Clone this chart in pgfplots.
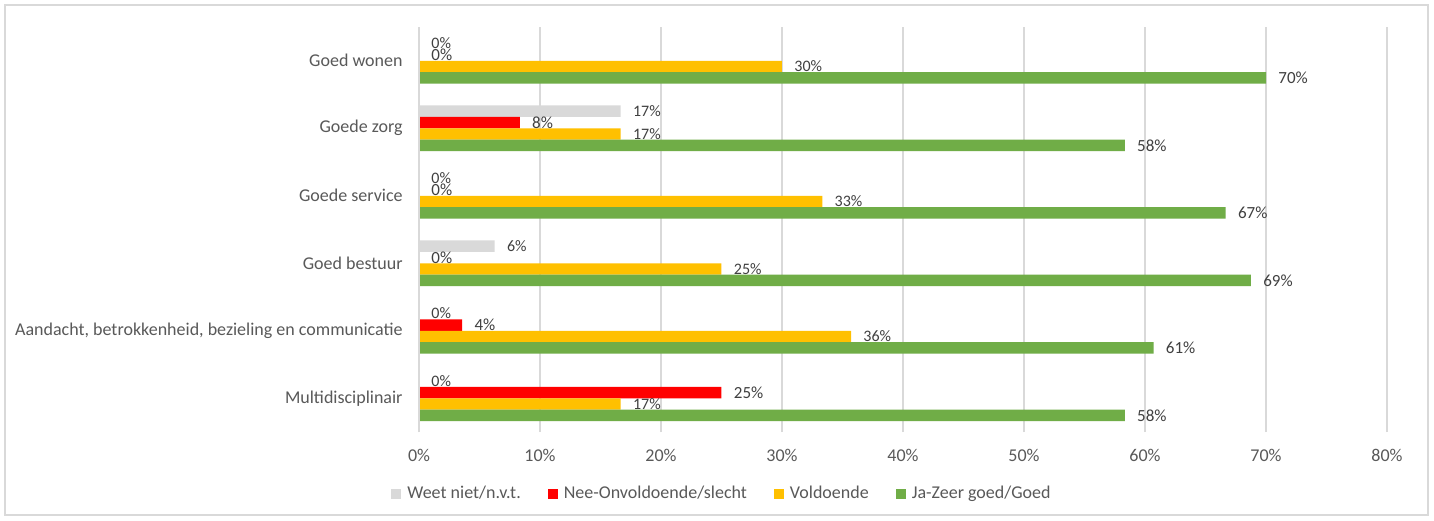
\documentclass[border=0pt]{standalone}
\usepackage{pgfplots}
\pgfplotsset{compat=1.18}
\usepackage{fontspec}
\setmainfont{Carlito}
\definecolor{gridgray}{HTML}{D9D9D9}
\definecolor{txtgray}{HTML}{595959}
\definecolor{lblgray}{HTML}{404040}
\definecolor{cWeet}{HTML}{D9D9D9}
\definecolor{cNee}{HTML}{FF0000}
\definecolor{cVold}{HTML}{FFC000}
\definecolor{cJa}{HTML}{70AD47}
\begin{document}
\begin{tikzpicture}
\useasboundingbox (-209.5pt,-44pt) rectangle (507.5pt,216pt);
\fill[white] (-209.5pt,-44pt) rectangle (507.5pt,216pt);
\begin{axis}[
  at={(0pt,0pt)}, anchor=south west,
  scale only axis, width=484pt, height=202.5pt,
  xbar, bar width=0.17,
  xmin=0, xmax=80, ymin=-0.5, ymax=5.5,
  xtick={0,10,...,80},
  xticklabel={\pgfmathprintnumber{\tick}\%},
  /pgf/number format/assume math mode=true,
  ytick={0,1,2,3,4,5},
  yticklabels={Multidisciplinair,{Aandacht, betrokkenheid, bezieling en communicatie},Goed bestuur,Goede service,Goede zorg,Goed wonen},
  xmajorgrids, major grid style={color=gridgray, line width=0.75pt},
  axis line style={draw=none},
  major tick length=0pt,
  tick style={draw=none},
  xticklabel style={font=\fontsize{9}{10}\selectfont, text=txtgray, anchor=center, yshift=-11.5pt},
  yticklabel style={font=\fontsize{9}{10}\selectfont, text=txtgray, anchor=east, inner sep=0pt, xshift=-8pt},
  point meta=x,
  nodes near coords={\pgfmathprintnumber[fixed,precision=0]{\pgfplotspointmeta}\%},
  nodes near coords style={anchor=west, inner sep=0pt, xshift=6pt, text=lblgray, font=\fontsize{8}{9}\selectfont},
  legend image code/.code={\fill[#1] (0pt,-2.5pt) rectangle (5pt,2.5pt);},
  legend columns=4,
  legend style={at={(0.313,-0.1531)}, anchor=center, draw=none, fill=none,
    font=\fontsize{9}{10}\selectfont, text=txtgray,
    nodes={inner sep=1pt},
    /tikz/every even column/.append style={column sep=12.5pt},
    /tikz/every odd column/.append style={column sep=2pt}},
  legend cell align=left,
]
\addplot[fill=cWeet, draw=none, bar shift=0.255] coordinates {(0,5) (16.67,4) (0,3) (6.25,2) (0,1) (0,0)};
\addplot[fill=cNee, draw=none, bar shift=0.085, nodes near coords style={font=\fontsize{8.5}{9}\selectfont}] coordinates {(0,5) (8.33,4) (0,3) (0,2) (3.57,1) (25,0)};
\addplot[fill=cVold, draw=none, bar shift=-0.085] coordinates {(30,5) (16.67,4) (33.33,3) (25,2) (35.71,1) (16.67,0)};
\addplot[fill=cJa, draw=none, bar shift=-0.255, nodes near coords style={font=\fontsize{8.5}{9}\selectfont}] coordinates {(70,5) (58.33,4) (66.67,3) (68.75,2) (60.71,1) (58.33,0)};
\legend{Weet niet/n.v.t.,Nee-Onvoldoende/slecht,Voldoende,Ja-Zeer goed/Goed}
\end{axis}
\draw[gridgray, line width=0.75pt] (0pt,0pt) -- (0pt,202.5pt);
\draw[gridgray, line width=0.75pt] (-207pt,-41.5pt) rectangle (504.5pt,213.5pt);
\end{tikzpicture}
\end{document}
